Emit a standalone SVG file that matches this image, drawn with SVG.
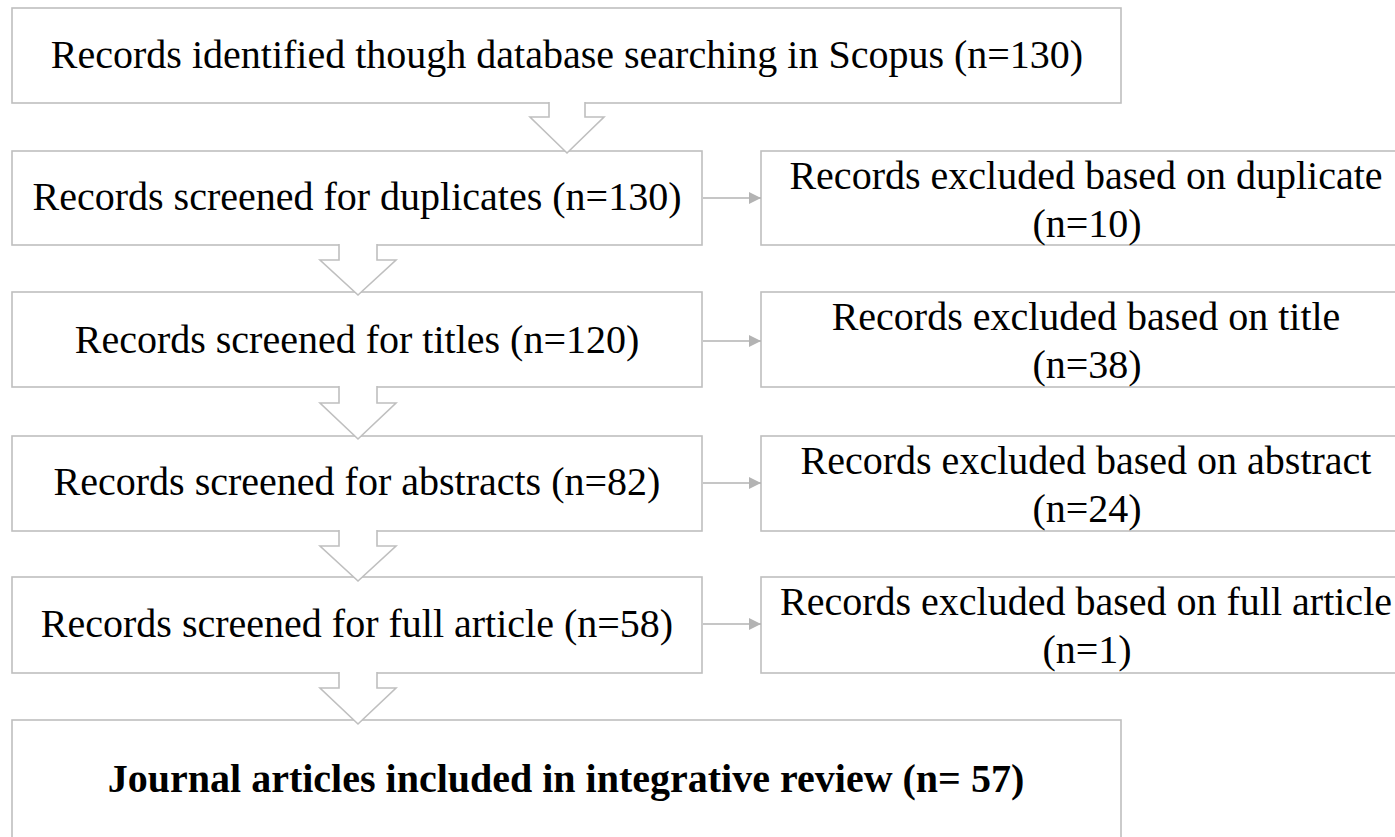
<svg xmlns="http://www.w3.org/2000/svg" width="1395" height="837" viewBox="0 0 1395 837">
  <style>
    .box { fill: #ffffff; stroke: #bfbfbf; stroke-width: 1.6; }
    .blk { fill: #ffffff; stroke: #bfbfbf; stroke-width: 1.6; stroke-linejoin: miter; }
    .con { fill: none; stroke: #b3b3b3; stroke-width: 1.6; }
    .t { font-family: "Liberation Serif", "Times New Roman", serif; font-size: 40px; fill: #000000; text-anchor: middle; }
    .b { font-weight: bold; }
  </style>
  <defs>
    <marker id="ah" viewBox="0 0 12 12" refX="12" refY="6" markerWidth="12" markerHeight="12" markerUnits="userSpaceOnUse" orient="auto">
      <path d="M0,0 L12,6 L0,12 Z" fill="#b3b3b3"/>
    </marker>
  </defs>
  <rect width="1395" height="837" fill="#ffffff"/>

  <g id="n1">
    <rect class="box" x="12" y="8" width="1109" height="95"/>
    <text class="t" x="567" y="68">Records identified though database searching in Scopus (n=130)</text>
  </g>
  <g id="n2">
    <rect class="box" x="12" y="151" width="690" height="94"/>
    <text class="t" x="357" y="210">Records screened for duplicates (n=130)</text>
  </g>
  <g id="n3">
    <rect class="box" x="12" y="292" width="690" height="95"/>
    <text class="t" x="357" y="353">Records screened for titles (n=120)</text>
  </g>
  <g id="n4">
    <rect class="box" x="12" y="436" width="690" height="95"/>
    <text class="t" x="357" y="495">Records screened for abstracts (n=82)</text>
  </g>
  <g id="n5">
    <rect class="box" x="12" y="577" width="690" height="96"/>
    <text class="t" x="357" y="637">Records screened for full article (n=58)</text>
  </g>
  <g id="n6">
    <rect class="box" x="12" y="720" width="1109" height="140"/>
    <text class="t b" x="566" y="792">Journal articles included in integrative review (n= 57)</text>
  </g>

  <g id="r2">
    <rect class="box" x="761" y="151" width="660" height="94"/>
    <text class="t" x="1086" y="189">Records excluded based on duplicate</text>
    <text class="t" x="1087" y="237">(n=10)</text>
  </g>
  <g id="r3">
    <rect class="box" x="761" y="292" width="660" height="95"/>
    <text class="t" x="1086" y="330">Records excluded based on title</text>
    <text class="t" x="1087" y="378">(n=38)</text>
  </g>
  <g id="r4">
    <rect class="box" x="761" y="436" width="660" height="95"/>
    <text class="t" x="1086" y="474">Records excluded based on abstract</text>
    <text class="t" x="1087" y="522">(n=24)</text>
  </g>
  <g id="r5">
    <rect class="box" x="761" y="577" width="660" height="96"/>
    <text class="t" x="1086" y="615">Records excluded based on full article</text>
    <text class="t" x="1087" y="663">(n=1)</text>
  </g>

  <g id="connectors">
    <path class="blk" d="M549,102 V117 H530 L567,153 L604,117 H585 V102"/>
    <path class="blk" d="M339,244 V260 H320 L358,295 L396,260 H377 V244"/>
    <path class="blk" d="M339,386 V403 H320 L358,439 L396,403 H377 V386"/>
    <path class="blk" d="M339,530 V546 H320 L358,581 L396,546 H377 V530"/>
    <path class="blk" d="M339,672 V688 H320 L358,724 L396,688 H377 V672"/>
    <line class="con" x1="703" y1="198" x2="761" y2="198" marker-end="url(#ah)"/>
    <line class="con" x1="703" y1="341" x2="761" y2="341" marker-end="url(#ah)"/>
    <line class="con" x1="703" y1="483" x2="761" y2="483" marker-end="url(#ah)"/>
    <line class="con" x1="703" y1="624" x2="761" y2="624" marker-end="url(#ah)"/>
  </g>
</svg>
